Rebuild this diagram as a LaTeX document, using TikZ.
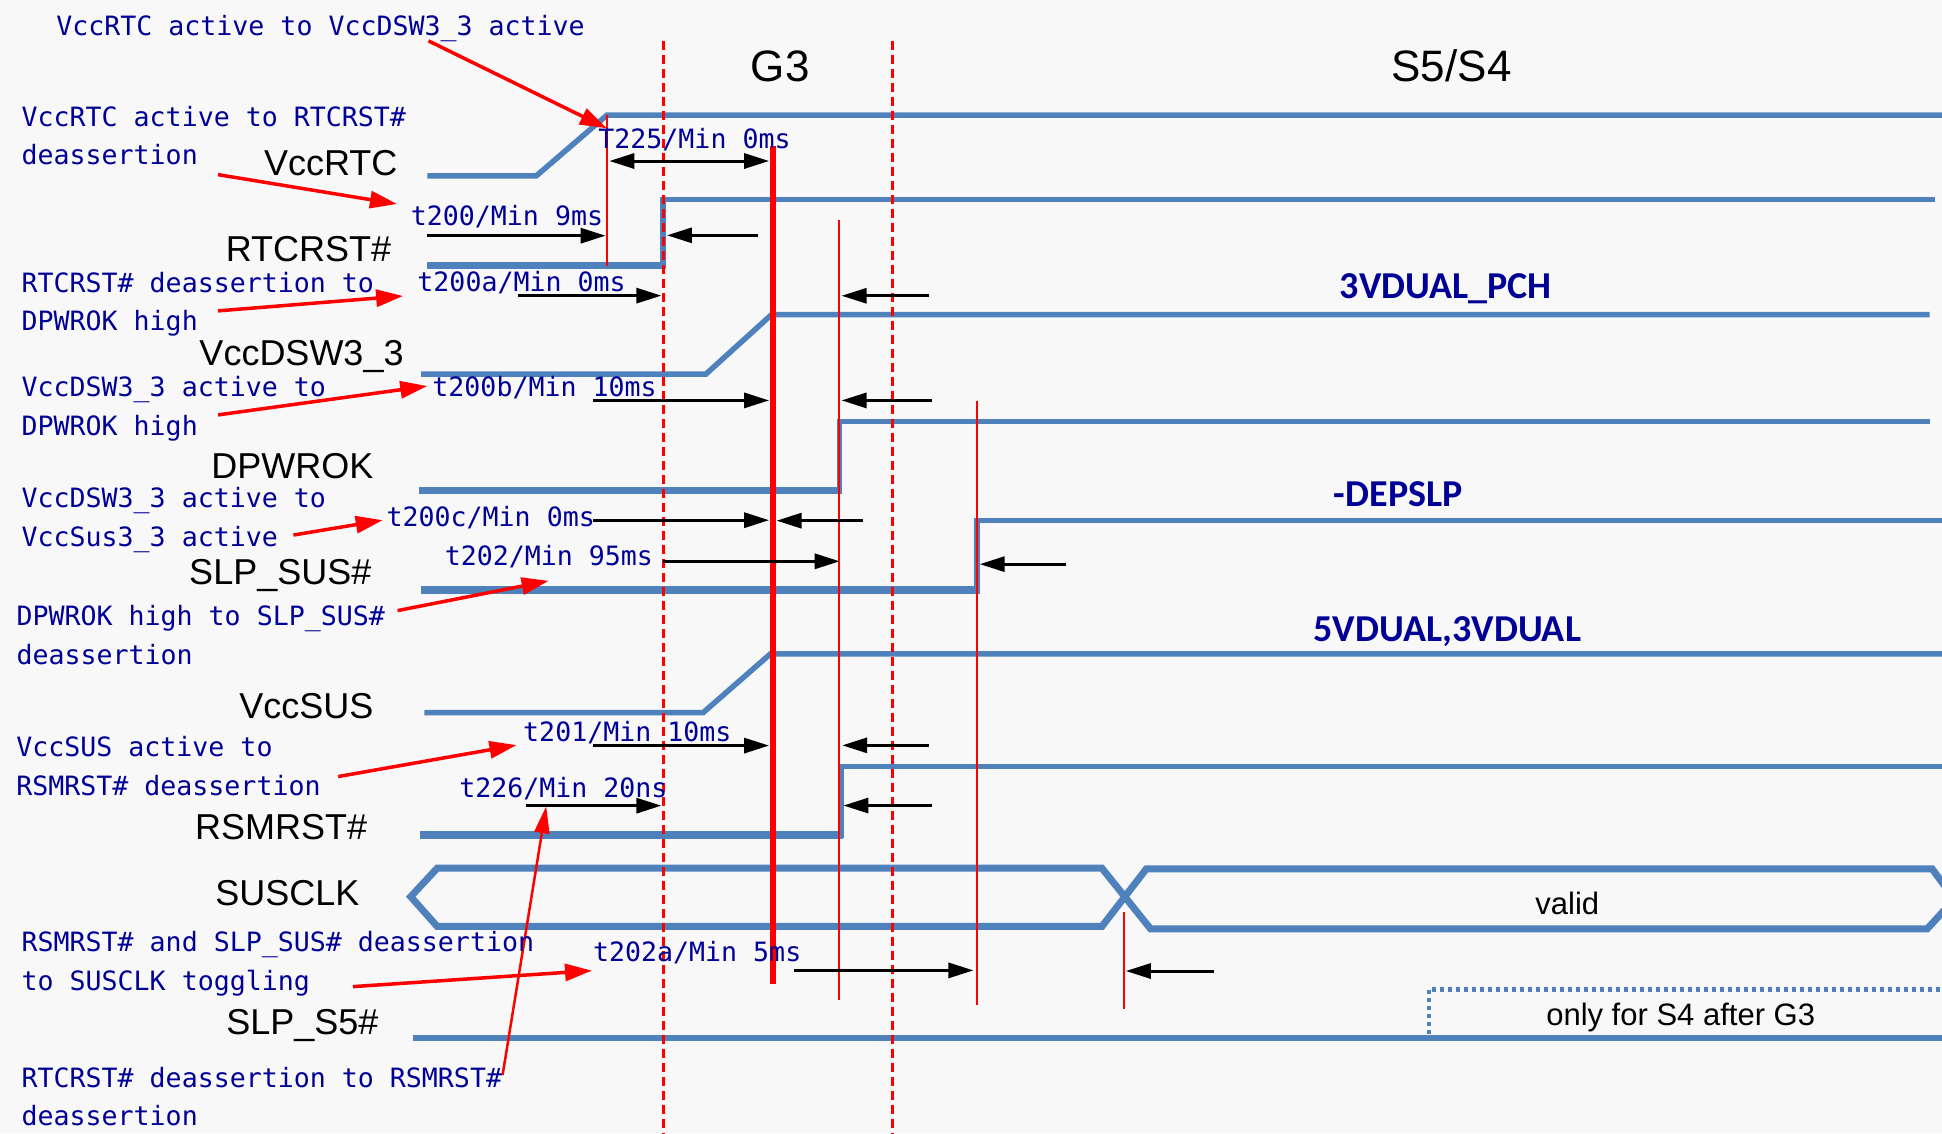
\documentclass[tikz,border=0pt]{standalone}
\usepackage{fontspec}
\setmainfont{Liberation Sans}
\newfontfamily\monofont{DejaVu Sans Mono}
\newfontfamily\lblfont{Carlito}
\usetikzlibrary{arrows.meta}
\definecolor{bgc}{RGB}{248,248,248}
\definecolor{sigblue}{RGB}{79,129,189}
\definecolor{navy}{RGB}{0,0,150}
\begin{document}
\begin{tikzpicture}[x=1.2385pt,y=-1.2385pt,
  sig/.style={draw=sigblue,line width=5.5pt},
  siglow/.style={draw=sigblue,line width=7.5pt},
  note/.style={text=navy,font=\monofont\fontsize{26.6}{32}\selectfont,anchor=base west,inner sep=0pt},
  slab/.style={font=\fontsize{36}{40}\selectfont,anchor=base east,inner sep=0pt},
  hlab/.style={font=\fontsize{44}{48}\selectfont,anchor=base,inner sep=0pt},
  blab/.style={text=navy,font=\lblfont\bfseries\fontsize{38}{42}\selectfont,anchor=base,inner sep=0pt},
  plab/.style={font=\fontsize{31}{34}\selectfont,anchor=base,inner sep=0pt},
  barrow/.style={draw=black,line width=3pt,-{Triangle[length=25pt,width=15pt]}},
  rarrow/.style={draw=red,line width=3.5pt,-{Triangle[length=27pt,width=17pt]}},
  rline/.style={draw=red,line width=2pt},
  dline/.style={draw=red,line width=2.5pt,dash pattern=on 9pt off 5pt}]
\useasboundingbox (0,0) rectangle (1568,915);
\fill[bgc] (0,0) rectangle (1568,915);
\begin{scope}
\clip (0,0) rectangle (1568,915);
% signals
\draw[sig] (345,142)--(433,142)--(490,93)--(1570,93);
\draw[siglow] (345,214.5)--(537.5,214.5);
\draw[sig] (535.5,217)--(535.5,161)--(1562,161);
\draw[sig] (340,302)--(570,302)--(623,254)--(1558,254);
\draw[siglow] (338.6,396)--(679.8,396);
\draw[sig] (677.8,398.5)--(677.8,340.3)--(1558,340.3);
\draw[siglow] (340.3,476.4)--(790.9,476.4);
\draw[sig] (788.9,479)--(788.9,420.4)--(1570,420.4);
\draw[sig] (342.7,575.4)--(567.7,575.4)--(622,528)--(1570,528);
\draw[siglow] (339,674.2)--(681,674.2);
\draw[sig] (679,676.7)--(679,618.7)--(1570,618.7);
\draw[sig,line width=7pt] (929,750)--(889.7,701)--(353,701)--(331.6,724)--(353,748)--(889.7,748)--(925.6,701.5)--(1560,701.5)--(1578,726)--(1556,750)--cycle;
\draw[sig,line width=6pt] (333.6,837.7)--(1570,837.7);
\draw[sigblue,line width=4.5pt,dash pattern=on 4pt off 4pt] (1153.6,835)--(1153.6,799)--(1570,799);
% red vertical lines
\draw[rline,line width=2.5pt] (490.2,93)--(490.2,214.5);
\draw[red,line width=6pt] (624,117.7)--(624,794.5);
\draw[rline] (677.8,178)--(677.8,807);
\draw[rline] (788.5,323.6)--(788.5,811.5);
\draw[rline] (907.5,736)--(907.5,814.7);
\draw[dline] (535.6,33)--(535.6,915);
\draw[dline] (720.6,33)--(720.6,915);
% black timing arrows
\draw[barrow,{Triangle[length=25pt,width=15pt]}-{Triangle[length=25pt,width=15pt]}] (492,130)--(621,130);
\draw[barrow] (345,190.3)--(489,190.3);
\draw[barrow] (612,190)--(538.5,190);
\draw[barrow] (418,238.7)--(534,238.7);
\draw[barrow] (750,238.8)--(679.5,238.8);
\draw[barrow] (479,323.3)--(621,323.3);
\draw[barrow] (752.6,323.3)--(679.5,323.3);
\draw[barrow] (479,420)--(621,420);
\draw[barrow] (696.4,420.4)--(627,420.4);
\draw[barrow] (535.5,453.2)--(678,453.2);
\draw[barrow] (860.8,455.5)--(791,455.5);
\draw[barrow] (479,602)--(621,602);
\draw[barrow] (750,601.8)--(680,601.8);
\draw[barrow] (752.6,650.4)--(681,650.4);
\draw[barrow] (424.3,650.5)--(534,650.5);
\draw[barrow] (641.3,783.5)--(786,783.5);
\draw[barrow] (980,784)--(909,784);
% red annotation arrows
\draw[rarrow] (346,33)--(490,103.6);
\draw[rarrow] (176,141)--(320.5,164.7);
\draw[rarrow] (176,251)--(325.5,239);
\draw[rarrow] (176,335)--(345,311.7);
\draw[rarrow] (236.9,432)--(309,420);
\draw[rarrow] (321,493)--(443,469);
\draw[rarrow] (273,627)--(417,601.6);
\draw[rarrow] (285,796.6)--(478,783.7);
\draw[rarrow,line width=2.5pt,-{Triangle[length=27pt,width=15pt]}] (405.8,868)--(441,651);
\end{scope}
% headers
\node[hlab] (g3) at (630,65.7) {G3};
\node[hlab] (s5) at (1172,65.7) {S5/S4};
% signal names
\node[slab] (lvccrtc) at (321,141.8) {VccRTC};
\node[slab] (lrtcrst) at (316,211) {RTCRST\#};
\node[slab] (lvccdsw) at (326,295.5) {VccDSW3\_3};
\node[slab] (ldpwrok) at (301.6,386.2) {DPWROK};
\node[slab] (lslpsus) at (300,472.3) {SLP\_SUS\#};
\node[slab] (lvccsus) at (301.6,580) {VccSUS};
\node[slab] (lrsmrst) at (296.6,678) {RSMRST\#};
\node[slab] (lsusclk) at (290.4,730.7) {SUSCLK};
\node[slab] (lslps5) at (305.7,835) {SLP\_S5\#};
% rail labels
\node[blab] (r1) at (1167.3,240.8) {3VDUAL\_PCH};
\node[blab,anchor=base west] (r2) at (1076.9,408.9) {-DEPSLP};
\node[blab] (r3) at (1168.6,517.9) {5VDUAL,3VDUAL};
\node[plab] (valid) at (1265.5,738.3) {valid};
\node[plab] (only) at (1357,827.6) {only for S4 after G3};
% timing labels
\node[note] (t225) at (483,120.3) {T225/Min 0ms};
\node[note] (t200) at (331.6,181.7) {t200/Min 9ms};
\node[note] (t200a) at (336.9,235.5) {t200a/Min 0ms};
\node[note] (t200b) at (349,320) {t200b/Min 10ms};
\node[note] (t200c) at (312,425.2) {t200c/Min 0ms};
\node[note] (t202) at (359,456.7) {t202/Min 95ms};
\node[note] (t201) at (422.3,598.8) {t201/Min 10ms};
\node[note] (t226) at (370.7,644) {t226/Min 20ns};
\node[note] (t202a) at (478.7,776.5) {t202a/Min 5ms};
% explanation notes
\node[note] (n1) at (45.3,29) {VccRTC active to VccDSW3\_3 active};
\node[note] (n2a) at (17.3,102) {VccRTC active to RTCRST\#};
\node[note] (n2b) at (17.3,132.7) {deassertion};
\node[note] (n3a) at (17.3,235.8) {RTCRST\# deassertion to};
\node[note] (n3b) at (17.3,266.5) {DPWROK high};
\node[note] (n4a) at (17.3,320) {VccDSW3\_3 active to};
\node[note] (n4b) at (17.3,351.8) {DPWROK high};
\node[note] (n5a) at (17.3,409.6) {VccDSW3\_3 active to};
\node[note] (n5b) at (17.3,440.9) {VccSus3\_3 active};
\node[note] (n6a) at (13.2,505.2) {DPWROK high to SLP\_SUS\#};
\node[note] (n6b) at (13.2,536.4) {deassertion};
\node[note] (n7a) at (13,610.4) {VccSUS active to};
\node[note] (n7b) at (13,641.9) {RSMRST\# deassertion};
\node[note] (n8a) at (17.3,768.4) {RSMRST\# and SLP\_SUS\# deassertion};
\node[note] (n8b) at (17.3,799.4) {to SUSCLK toggling};
\node[note] (n9a) at (17.3,878.2) {RTCRST\# deassertion to RSMRST\#};
\node[note] (n9b) at (17.3,908.4) {deassertion};
\end{tikzpicture}
\end{document}
